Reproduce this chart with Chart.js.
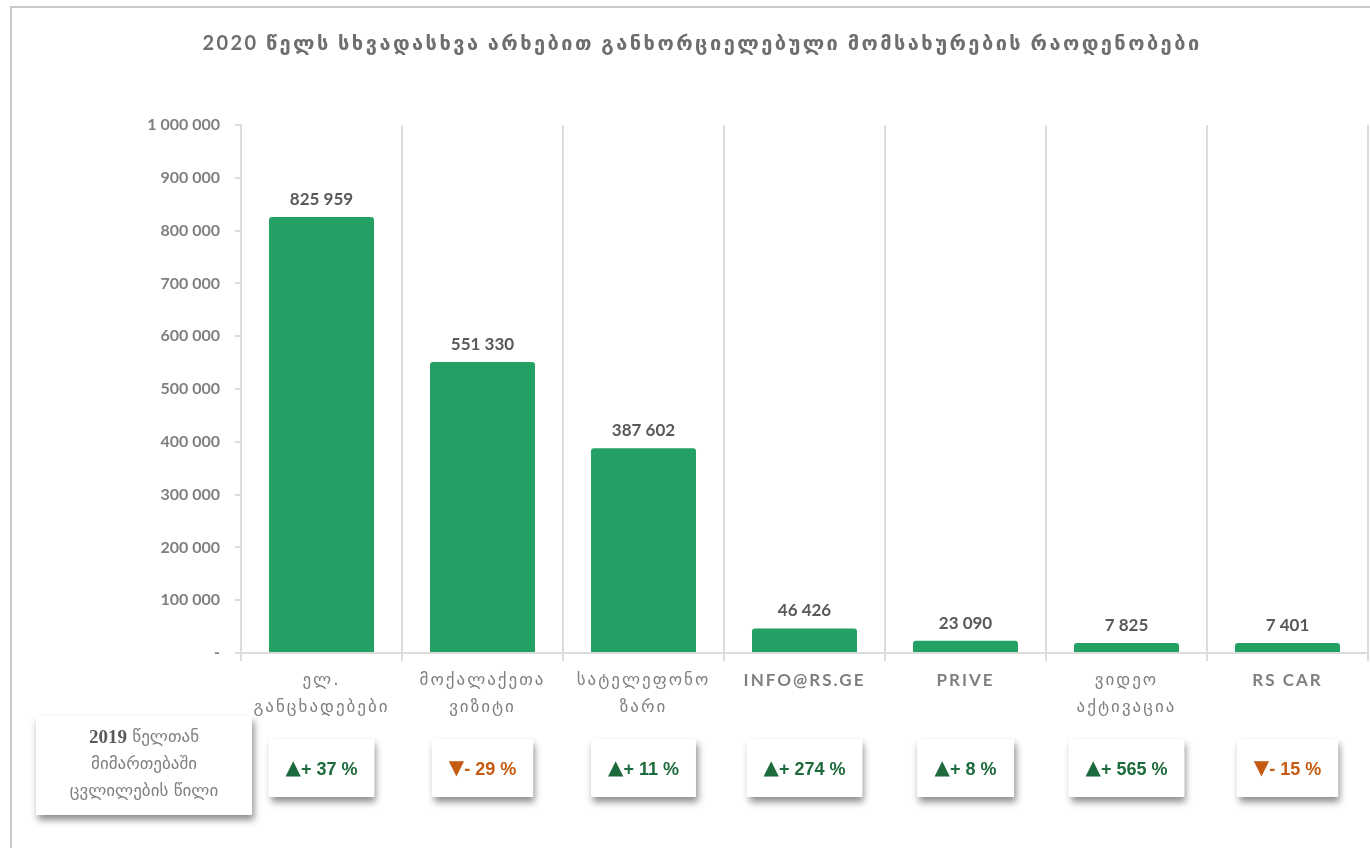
<!DOCTYPE html>
<html><head><meta charset="utf-8">
<script src="https://cdn.jsdelivr.net/npm/chart.js@4.4.1/dist/chart.umd.min.js"></script>
<style>
html,body{margin:0;padding:0;background:#fff;}
#wrap{position:relative;width:1370px;height:848px;overflow:hidden;background:#fff;}
#frame{position:absolute;left:10px;top:6px;width:1400px;height:900px;border-left:2px solid #c9c9c9;border-top:2px solid #c9c9c9;}
canvas{position:absolute;left:0;top:0;}
</style></head><body>
<div id="wrap"><div id="frame"></div><canvas id="c" width="1370" height="848"></canvas></div>
<script>
const titleText = '2020 წელს სხვადასხვა არხებით განხორციელებული მომსახურების რაოდენობები';
const categories = [['ელ.', 'განცხადებები'], ['მოქალაქეთა', 'ვიზიტი'], ['სატელეფონო', 'ზარი'], 'INFO@RS.GE', 'PRIVE', ['ვიდეო', 'აქტივაცია'], 'RS CAR'];
const values = [825959, 551330, 387602, 46426, 23090, 7825, 7401];
const changes = [37, -29, 11, 274, 8, 565, -15];
const yTickValues = [0, 100000, 200000, 300000, 400000, 500000, 600000, 700000, 800000, 900000, 1000000];
const legendLines = [['2019', ' წელთან'], ['', 'მიმართებაში'], ['', 'ცვლილების წილი']];

const fmt = v => v === 0 ? '-' : String(v).replace(/\B(?=(\d{3})+(?!\d))/g, ' ');
const GRID = '#dcdcdc';

const textPlugin = {
  id: 'texts',
  beforeDraw(chart) {
    const ctx = chart.ctx;
    ctx.letterSpacing = '0px';
    ctx.save();
    ctx.letterSpacing = '2.45px';
    ctx.font = 'bold 20px Lato, "DejaVu Sans"';
    ctx.fillStyle = '#6e6e6e';
    ctx.textAlign = 'center';
    ctx.textBaseline = 'middle';
    ctx.fillText(titleText, 702, 44);
    ctx.restore();
  },
  afterDatasetsDraw(chart) {
    const ctx = chart.ctx;
    ctx.save();
    ctx.letterSpacing = '0px';
    ctx.font = 'bold 17px Lato, "DejaVu Sans"';
    ctx.fillStyle = '#595959';
    ctx.textAlign = 'center';
    ctx.textBaseline = 'bottom';
    chart.getDatasetMeta(0).data.forEach((bar, i) => {
      ctx.fillText(fmt(values[i]), bar.x, bar.y - 9);
    });
    ctx.restore();
    // spacing for x-axis labels (drawn in a later layer)
    ctx.letterSpacing = '2px';
  }
};

function shadowBox(ctx, x, y, w, h) {
  ctx.save();
  ctx.shadowColor = 'rgba(0,0,0,0.45)';
  ctx.shadowBlur = 7;
  ctx.shadowOffsetX = 2;
  ctx.shadowOffsetY = 5;
  ctx.fillStyle = '#fff';
  ctx.fillRect(x, y, w, h);
  ctx.restore();
}

const boxesPlugin = {
  id: 'boxes',
  afterDraw(chart) {
    const ctx = chart.ctx;
    const xs = chart.scales.x;
    ctx.letterSpacing = '0px';
    ctx.save();
    // legend box
    const lx = 36, ly = 716, lw = 216, lh = 99;
    shadowBox(ctx, lx, ly, lw, lh);
    ctx.textBaseline = 'middle';
    const f1 = 'bold 19px "Liberation Serif", "DejaVu Sans"';
    const f2 = '17px "DejaVu Sans"';
    legendLines.forEach((parts, k) => {
      const cy = ly + 22 + k * 27;
      ctx.font = f1;
      const w1 = ctx.measureText(parts[0]).width;
      ctx.font = f2;
      const w2 = ctx.measureText(parts[1]).width;
      const sx = lx + lw / 2 - (w1 + w2) / 2;
      ctx.textAlign = 'left';
      ctx.font = f1;
      ctx.fillStyle = '#595959';
      ctx.fillText(parts[0], sx, cy);
      ctx.font = f2;
      ctx.fillStyle = '#7f7f7f';
      ctx.fillText(parts[1], sx + w1, cy);
    });
    // change boxes
    const fTri = '20px "DejaVu Sans"';
    const fTxt = 'bold 18px "Liberation Sans Narrow", "Liberation Sans"';
    changes.forEach((c, i) => {
      const cx = xs.getPixelForValue(i);
      const up = c >= 0;
      const tri = up ? '▲' : '▼';
      const txt = (up ? '+ ' : '- ') + Math.abs(c) + ' %';
      ctx.font = fTri;
      const w1 = ctx.measureText(tri).width;
      ctx.font = fTxt;
      const w2 = ctx.measureText(txt).width;
      const tw = w1 + w2;
      const w = Math.max(97, tw + 34);
      const h = 58;
      const y = 739;
      shadowBox(ctx, cx - w / 2, y, w, h);
      ctx.fillStyle = up ? '#1d6b3d' : '#c55a11';
      ctx.textAlign = 'left';
      ctx.textBaseline = 'middle';
      const sx = cx - tw / 2;
      ctx.font = fTri;
      ctx.fillText(tri, sx, y + 30);
      ctx.font = fTxt;
      ctx.fillText(txt, sx + w1, y + 31);
    });
    ctx.restore();
  }
};

const isLatin = s => typeof s === 'string' && /^[A-Z@.\s]+$/.test(s);

new Chart(document.getElementById('c'), {
  type: 'bar',
  data: {
    labels: categories,
    datasets: [{
      data: values,
      backgroundColor: '#23a063',
      borderRadius: { topLeft: 3, topRight: 3 },
      borderSkipped: 'bottom',
      barPercentage: 0.652,
      categoryPercentage: 1,
      minBarLength: 10
    }]
  },
  options: {
    responsive: false,
    animation: false,
    layout: { padding: { left: 0, right: 2, top: 125, bottom: 0 } },
    plugins: {
      legend: { display: false },
      tooltip: { enabled: false },
      title: { display: false }
    },
    scales: {
      x: {
        grid: { offset: true, color: GRID, lineWidth: 2, tickLength: 8, tickColor: GRID },
        border: { display: true, color: GRID, width: 2 },
        ticks: {
          z: 1,
          color: '#7f7f7f',
          autoSkip: false,
          maxRotation: 0,
          padding: 6,
          font: (ctx) => {
            const lbl = categories[ctx.index];
            return isLatin(lbl)
              ? { family: 'Lato', weight: 'bold', size: 17, lineHeight: 1.6 }
              : { family: '"DejaVu Sans"', weight: 'normal', size: 17, lineHeight: 1.6 };
          }
        },
        afterFit: s => { s.height = 195; }
      },
      y: {
        min: 0,
        max: 1000000,
        afterBuildTicks: s => { s.ticks = yTickValues.map(v => ({ value: v })); },
        grid: {
          color: ctx => (ctx.tick && ctx.tick.value === 0) ? GRID : 'rgba(0,0,0,0)',
          tickColor: GRID,
          tickLength: 6,
          lineWidth: 2
        },
        border: { display: true, color: GRID, width: 2 },
        ticks: {
          callback: v => fmt(v),
          color: '#7f7f7f',
          font: { family: 'Lato', weight: 'bold', size: 16 },
          padding: 15
        },
        afterFit: s => { s.width = 241; }
      }
    }
  },
  plugins: [textPlugin, boxesPlugin]
});
</script>
</body></html>
